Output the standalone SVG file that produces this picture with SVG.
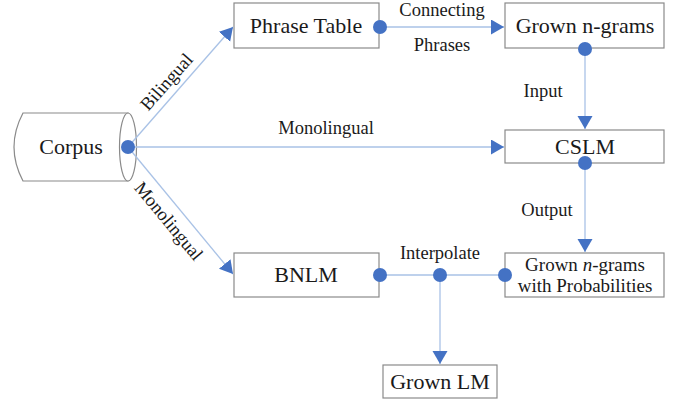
<svg xmlns="http://www.w3.org/2000/svg" width="682" height="401" viewBox="0 0 682 401">
<defs>
<marker id="arr" markerUnits="userSpaceOnUse" markerWidth="14" markerHeight="16" refX="13" refY="7.5" orient="auto">
<path d="M0,0 L13,7.5 L0,15 Z" fill="#4472c4"/>
</marker>
</defs>
<style>
.box{fill:#fff;stroke:#8a8a8a;stroke-width:1.2}
.t{font-family:'Liberation Serif','Times New Roman',serif;font-size:22px;fill:#1a1a1a;text-anchor:middle}
.l{font-family:'Liberation Serif','Times New Roman',serif;font-size:18.5px;fill:#1a1a1a;text-anchor:middle}
.c{fill:none;stroke:#a9c2e6;stroke-width:1.3}
.dot{fill:#4472c4}
</style>
<rect width="682" height="401" fill="#fff"/>
<g id="corpus">
<path class="box" d="M23,113 L128,113 L128,181 L23,181 Q5,147 23,113 Z"/>
<ellipse cx="128" cy="147" rx="8.5" ry="34" class="box" fill="none"/>
<text class="t" x="71" y="154">Corpus</text>
</g>
<g id="phrase-table">
<rect class="box" x="234" y="3" width="145" height="45"/>
<text class="t" x="306" y="33">Phrase Table</text>
</g>
<g id="grown-ngrams">
<rect class="box" x="505" y="3" width="159" height="45"/>
<text class="t" x="585" y="33">Grown n-grams</text>
</g>
<g id="cslm">
<rect class="box" x="505" y="130" width="159" height="33"/>
<text class="t" x="585" y="154">CSLM</text>
</g>
<g id="grown-ngrams-prob">
<rect class="box" x="505" y="253" width="159" height="44"/>
<text class="l" x="585" y="271" style="font-size:19px">Grown <tspan font-style="italic">n</tspan>-grams</text>
<text class="l" x="585" y="292" style="font-size:19px">with Probabilities</text>
</g>
<g id="bnlm">
<rect class="box" x="234" y="253" width="145" height="44"/>
<text class="t" x="306" y="282">BNLM</text>
</g>
<g id="grown-lm">
<rect class="box" x="383" y="365" width="114" height="33"/>
<text class="t" x="440" y="389">Grown LM</text>
</g>
<g id="connectors">
<line class="c" x1="128" y1="147" x2="233" y2="27" marker-end="url(#arr)"/>
<line class="c" x1="128" y1="147" x2="504" y2="147" marker-end="url(#arr)"/>
<line class="c" x1="128" y1="147" x2="233" y2="274" marker-end="url(#arr)"/>
<line class="c" x1="380" y1="27" x2="504" y2="27" marker-end="url(#arr)"/>
<line class="c" x1="585" y1="49" x2="585" y2="129" marker-end="url(#arr)"/>
<line class="c" x1="585" y1="163" x2="585" y2="252" marker-end="url(#arr)"/>
<line class="c" x1="380" y1="275" x2="505" y2="275"/>
<line class="c" x1="440" y1="275" x2="440" y2="364" marker-end="url(#arr)"/>
<circle class="dot" cx="128" cy="147" r="7"/>
<circle class="dot" cx="380" cy="27" r="7"/>
<circle class="dot" cx="585" cy="49" r="7"/>
<circle class="dot" cx="585" cy="163" r="7"/>
<circle class="dot" cx="380" cy="275" r="7"/>
<circle class="dot" cx="440" cy="275" r="7"/>
<circle class="dot" cx="505" cy="275" r="7"/>
<text class="l" x="442" y="16">Connecting</text>
<text class="l" x="442" y="51">Phrases</text>
<text class="l" x="543" y="97">Input</text>
<text class="l" x="326" y="134">Monolingual</text>
<text class="l" x="547" y="216">Output</text>
<text class="l" x="440" y="259">Interpolate</text>
<text class="l" transform="translate(171,86) rotate(-48.5)">Bilingual</text>
<text class="l" transform="translate(164,225) rotate(50.4)">Monolingual</text>
</g>
</svg>
